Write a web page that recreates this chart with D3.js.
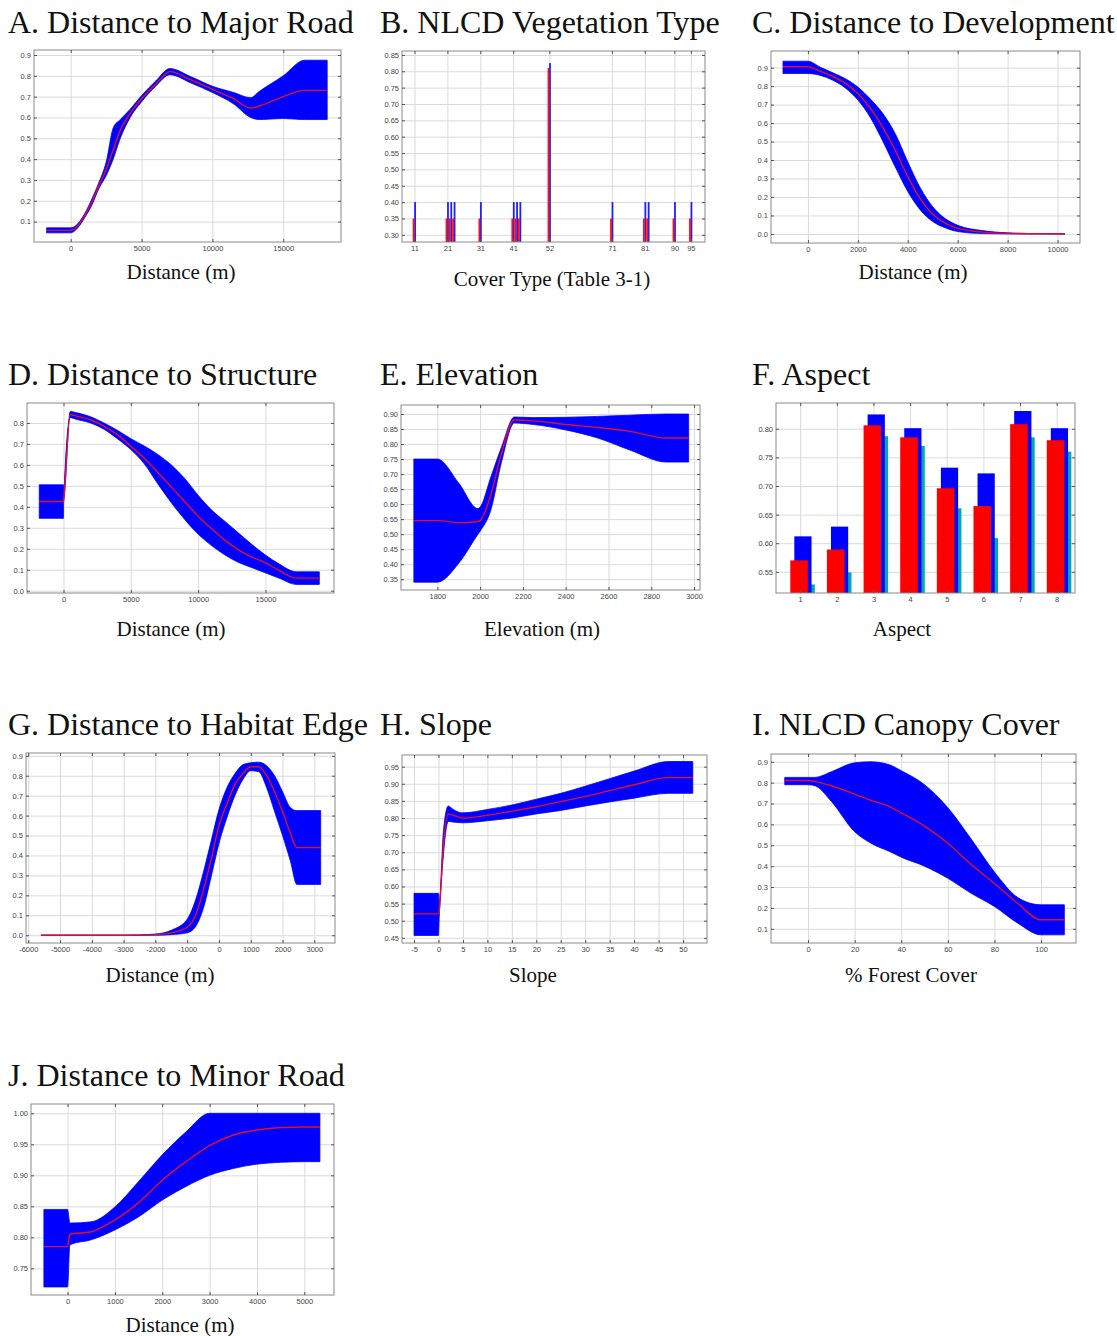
<!DOCTYPE html>
<html>
<head>
<meta charset="utf-8">
<script src="https://cdn.jsdelivr.net/npm/d3@7"></script>
<style>
body { margin: 0; background: #fff; }
.tick text { font-family: "Liberation Sans", Arial, sans-serif; font-size: 7.5px; fill: #444; }
.ttl { font-family: "Liberation Serif", "Times New Roman", serif; font-size: 32px; fill: #111; }
.xlab { font-family: "Liberation Serif", "Times New Roman", serif; font-size: 21px; fill: #111; }
</style>
</head>
<body>
<svg width="1117" height="1336"></svg>
<script>
// A. distance to major road
var roadX    = [-1700, 0, 500, 1000, 1500, 2000, 2500, 3000, 3500, 4200, 5000, 6000, 7000, 8500, 10000, 11500, 12700, 13300, 15000, 16500, 18100];
var roadMean = [0.058, 0.058, 0.08, 0.13, 0.195, 0.275, 0.35, 0.445, 0.54, 0.62, 0.69, 0.76, 0.82, 0.78, 0.735, 0.69, 0.645, 0.655, 0.70, 0.73, 0.73];
var roadHi   = [0.07, 0.07, 0.09, 0.14, 0.21, 0.29, 0.385, 0.55, 0.59, 0.64, 0.705, 0.775, 0.835, 0.795, 0.75, 0.72, 0.695, 0.725, 0.80, 0.875, 0.875];
var roadLo   = [0.046, 0.046, 0.07, 0.12, 0.18, 0.26, 0.32, 0.40, 0.50, 0.60, 0.675, 0.75, 0.805, 0.765, 0.72, 0.665, 0.60, 0.59, 0.595, 0.59, 0.59];

// B. NLCD vegetation type
var coverCodes = [11, 21, 22, 23, 31, 41, 42, 43, 52, 71, 81, 82, 90, 95];
var coverRed   = [0.35, 0.35, 0.35, 0.35, 0.35, 0.35, 0.35, 0.35, 0.81, 0.35, 0.35, 0.35, 0.35, 0.35];
var coverBlue  = [0.40, 0.40, 0.40, 0.40, 0.40, 0.40, 0.40, 0.40, 0.825, 0.40, 0.40, 0.40, 0.40, 0.40];
var coverTicks = [11, 21, 31, 41, 52, 71, 81, 90, 95];

// C. distance to development
var devX    = [-1000, 0, 500, 1000, 1500, 2000, 2500, 3000, 3500, 4000, 4500, 5000, 5500, 6000, 7000, 8000, 9000, 10300];
var devMean = [0.905, 0.905, 0.88, 0.852, 0.815, 0.76, 0.68, 0.577, 0.452, 0.31, 0.19, 0.107, 0.058, 0.03, 0.01, 0.003, 0.001, 0.0];
var devHi   = [0.935, 0.935, 0.902, 0.872, 0.84, 0.795, 0.73, 0.652, 0.542, 0.39, 0.25, 0.147, 0.083, 0.047, 0.018, 0.006, 0.002, 0.001];
var devLo   = [0.868, 0.868, 0.858, 0.832, 0.79, 0.725, 0.63, 0.502, 0.362, 0.23, 0.13, 0.067, 0.033, 0.013, 0.002, 0.0, 0.0, 0.0];

// D. distance to structure
var strX    = [-1800, 0, 10, 500, 1000, 2000, 3000, 4000, 5000, 6000, 7000, 8000, 9000, 10000, 11000, 12000, 13000, 14000, 15000, 16000, 17300, 19000];
var strMean = [0.425, 0.425, 0.43, 0.84, 0.832, 0.815, 0.785, 0.744, 0.689, 0.632, 0.565, 0.495, 0.425, 0.355, 0.295, 0.24, 0.195, 0.16, 0.133, 0.097, 0.06, 0.06];
var strHi   = [0.505, 0.505, 0.44, 0.855, 0.848, 0.83, 0.80, 0.765, 0.725, 0.69, 0.65, 0.60, 0.535, 0.455, 0.385, 0.33, 0.275, 0.22, 0.17, 0.128, 0.09, 0.09];
var strLo   = [0.345, 0.345, 0.42, 0.825, 0.816, 0.80, 0.77, 0.725, 0.673, 0.605, 0.51, 0.42, 0.34, 0.27, 0.215, 0.17, 0.135, 0.11, 0.085, 0.06, 0.03, 0.03];

// E. elevation
var elevX    = [1690, 1800, 1900, 1990, 2000, 2050, 2100, 2160, 2250, 2400, 2550, 2700, 2870, 2975];
var elevMean = [0.545, 0.545, 0.538, 0.542, 0.545, 0.63, 0.77, 0.88, 0.877, 0.865, 0.855, 0.842, 0.82, 0.82];
var elevHi   = [0.75, 0.75, 0.67, 0.585, 0.59, 0.69, 0.79, 0.89, 0.888, 0.889, 0.892, 0.896, 0.90, 0.90];
var elevLo   = [0.34, 0.34, 0.403, 0.50, 0.51, 0.58, 0.74, 0.87, 0.865, 0.847, 0.82, 0.78, 0.74, 0.74];

// F. aspect
var aspectCats = [1, 2, 3, 4, 5, 6, 7, 8];
var aspectRed  = [0.570, 0.589, 0.806, 0.785, 0.696, 0.665, 0.808, 0.780];
var aspectBlue = [0.612, 0.629, 0.825, 0.801, 0.732, 0.722, 0.831, 0.801];
var aspectCyan = [0.528, 0.549, 0.787, 0.770, 0.661, 0.609, 0.785, 0.760];

// G. distance to habitat edge
var edgeX    = [-5600, -3000, -2000, -1500, -1000, -750, -500, -250, 0, 250, 500, 750, 1000, 1250, 1500, 1750, 2000, 2250, 2450, 3200];
var edgeMean = [0, 0, 0.003, 0.012, 0.04, 0.095, 0.22, 0.377, 0.55, 0.66, 0.755, 0.81, 0.845, 0.845, 0.80, 0.72, 0.62, 0.51, 0.44, 0.44];
var edgeHi   = [0, 0, 0.006, 0.025, 0.08, 0.17, 0.31, 0.47, 0.63, 0.74, 0.81, 0.855, 0.865, 0.868, 0.85, 0.80, 0.72, 0.64, 0.625, 0.625];
var edgeLo   = [0, 0, 0, 0.003, 0.012, 0.04, 0.13, 0.29, 0.46, 0.59, 0.70, 0.78, 0.825, 0.82, 0.74, 0.62, 0.50, 0.37, 0.255, 0.255];

// H. slope
var slopeX    = [-5, 0, 0.15, 1, 2, 3, 5, 10, 15, 20, 25, 30, 35, 40, 47, 52];
var slopeMean = [0.52, 0.52, 0.53, 0.72, 0.812, 0.808, 0.80, 0.808, 0.82, 0.833, 0.848, 0.863, 0.88, 0.897, 0.918, 0.918];
var slopeHi   = [0.58, 0.58, 0.55, 0.76, 0.835, 0.825, 0.815, 0.825, 0.838, 0.855, 0.872, 0.893, 0.915, 0.937, 0.965, 0.965];
var slopeLo   = [0.457, 0.457, 0.51, 0.69, 0.79, 0.788, 0.786, 0.792, 0.80, 0.812, 0.822, 0.835, 0.847, 0.858, 0.872, 0.872];

// I. NLCD canopy cover
var canX    = [-10, 0, 3, 10, 20, 27, 35, 40, 50, 60, 70, 80, 90, 100, 110];
var canMean = [0.81, 0.81, 0.805, 0.785, 0.745, 0.715, 0.685, 0.655, 0.592, 0.51, 0.408, 0.317, 0.222, 0.143, 0.143];
var canHi   = [0.825, 0.825, 0.825, 0.852, 0.895, 0.90, 0.885, 0.857, 0.79, 0.68, 0.53, 0.372, 0.25, 0.215, 0.215];
var canLo   = [0.79, 0.79, 0.785, 0.71, 0.565, 0.51, 0.47, 0.443, 0.40, 0.342, 0.27, 0.207, 0.127, 0.071, 0.071];

// J. distance to minor road
var minX    = [-500, 0, 50, 500, 1000, 1500, 2000, 2500, 3000, 3500, 4000, 4500, 5000, 5330];
var minMean = [0.785, 0.785, 0.805, 0.809, 0.828, 0.856, 0.892, 0.922, 0.948, 0.965, 0.973, 0.977, 0.978, 0.978];
var minHi   = [0.845, 0.845, 0.823, 0.825, 0.849, 0.89, 0.933, 0.97, 1.0, 1.0, 1.0, 1.0, 1.0, 1.0];
var minLo   = [0.72, 0.72, 0.788, 0.796, 0.812, 0.833, 0.86, 0.882, 0.90, 0.911, 0.918, 0.921, 0.922, 0.922];

// tick values
var ticksRoadX = [0, 5000, 10000, 15000];
var ticksDevX = [0, 2000, 4000, 6000, 8000, 10000];
var ticksElevX = [1800, 2000, 2200, 2400, 2600, 2800, 3000];
var ticksEdgeX = [-6000, -5000, -4000, -3000, -2000, -1000, 0, 1000, 2000, 3000];
var ticksSlopeX = [-5, 0, 5, 10, 15, 20, 25, 30, 35, 40, 45, 50];
var ticksCanX = [0, 20, 40, 60, 80, 100];
var ticksMinX = [0, 1000, 2000, 3000, 4000, 5000];
var ticksTenths = [0, 0.1, 0.2, 0.3, 0.4, 0.5, 0.6, 0.7, 0.8, 0.9];
var ticksCoverY = [0.30, 0.35, 0.40, 0.45, 0.50, 0.55, 0.60, 0.65, 0.70, 0.75, 0.80, 0.85];
var ticksElevY = [0.35, 0.40, 0.45, 0.50, 0.55, 0.60, 0.65, 0.70, 0.75, 0.80, 0.85, 0.90];
var ticksAspectY = [0.55, 0.60, 0.65, 0.70, 0.75, 0.80];
var ticksSlopeY = [0.45, 0.50, 0.55, 0.60, 0.65, 0.70, 0.75, 0.80, 0.85, 0.90, 0.95];
var ticksMinY = [0.75, 0.80, 0.85, 0.90, 0.95, 1.00];

var svg = d3.select("svg");
var f1 = function(d) { return d.toFixed(1); },
    f2 = function(d) { return d.toFixed(2); },
    fd = function(d) { return String(d); };

function frame(p) {
    var b = p.box;
    var x = d3.scaleLinear().domain(p.xd).range([b[0], b[1]]);
    var y = d3.scaleLinear().domain(p.yd).range([b[3], b[2]]);
    var g = svg.append("g");
    var xt = p.xt.filter(function(d) { return d >= p.xd[0] && d <= p.xd[1]; });
    var yt = p.yt.filter(function(d) { return d >= p.yd[0] && d <= p.yd[1]; });

    // grid
    g.append("g").attr("transform", "translate(0," + b[3] + ")")
        .call(d3.axisBottom(x).tickValues(xt).tickSize(-(b[3] - b[2])).tickFormat(""))
        .call(function(a) { a.select(".domain").remove(); a.selectAll("line").attr("stroke", "#dadada"); });
    g.append("g").attr("transform", "translate(" + b[0] + ",0)")
        .call(d3.axisLeft(y).tickValues(yt).tickSize(-(b[1] - b[0])).tickFormat(""))
        .call(function(a) { a.select(".domain").remove(); a.selectAll("line").attr("stroke", "#dadada"); });

    p.x = x; p.y = y; p.g = g; p.xtv = xt; p.ytv = yt;
    return p;
}

function axes(p) {
    var b = p.box, g = p.g;
    g.append("rect").attr("x", b[0]).attr("y", b[2]).attr("width", b[1] - b[0]).attr("height", b[3] - b[2])
        .attr("fill", "none").attr("stroke", "#8a8a8a");
    g.append("g").attr("transform", "translate(0," + b[3] + ")")
        .call(d3.axisBottom(p.x).tickValues(p.xtv).tickSize(-3).tickPadding(4).tickFormat(p.xf))
        .call(function(a) { a.select(".domain").remove(); a.selectAll("line").attr("stroke", "#555"); });
    g.append("g").attr("transform", "translate(0," + b[2] + ")")
        .call(d3.axisTop(p.x).tickValues(p.xtv).tickSize(-3).tickFormat(""))
        .call(function(a) { a.select(".domain").remove(); a.selectAll("line").attr("stroke", "#555"); });
    g.append("g").attr("transform", "translate(" + b[0] + ",0)")
        .call(d3.axisLeft(p.y).tickValues(p.ytv).tickSize(-3).tickPadding(3).tickFormat(p.yf))
        .call(function(a) { a.select(".domain").remove(); a.selectAll("line").attr("stroke", "#555"); });
    g.append("g").attr("transform", "translate(" + b[1] + ",0)")
        .call(d3.axisRight(p.y).tickValues(p.ytv).tickSize(-3).tickFormat(""))
        .call(function(a) { a.select(".domain").remove(); a.selectAll("line").attr("stroke", "#555"); });

    svg.append("text").attr("class", "ttl").attr("x", p.tx).attr("y", p.ty).text(p.title);
    svg.append("text").attr("class", "xlab").attr("x", p.lx).attr("y", p.ly)
        .attr("text-anchor", "middle").text(p.xlabel);
}

function bandPanel(p, xs, mean, hi, lo) {
    frame(p);
    var idx = d3.range(xs.length);
    var area = d3.area().curve(d3.curveMonotoneX)
        .x(function(i) { return p.x(xs[i]); })
        .y0(function(i) { return p.y(lo[i]); })
        .y1(function(i) { return p.y(hi[i]); });
    var line = d3.line().curve(d3.curveMonotoneX)
        .x(function(i) { return p.x(xs[i]); })
        .y(function(i) { return p.y(mean[i]); });
    p.g.append("path").attr("d", area(idx)).attr("fill", "#0000ff").attr("stroke", "#0000ff").attr("stroke-width", 0.8);
    p.g.append("path").attr("d", line(idx)).attr("fill", "none").attr("stroke", "#e0102a").attr("stroke-width", 1.4);
    axes(p);
}

function barPanel(p, cats, sets) {
    frame(p);
    sets.forEach(function(s) {
        p.g.selectAll(null).data(cats).enter().append("rect")
            .attr("x", function(c) { return p.x(c + s.off[0]); })
            .attr("width", function(c) { return p.x(c + s.off[1]) - p.x(c + s.off[0]); })
            .attr("y", function(c, i) { return p.y(s.vals[i]); })
            .attr("height", function(c, i) { return p.y(p.yd[0]) - p.y(s.vals[i]); })
            .attr("fill", s.color);
    });
    axes(p);
}

bandPanel({ title: "A. Distance to Major Road", tx: 8, ty: 33, xlabel: "Distance (m)", lx: 181, ly: 279,
    box: [34, 341, 50, 242], xd: [-2590, 19075], yd: [0.002, 0.924],
    xt: ticksRoadX, yt: ticksTenths, xf: fd, yf: f1 }, roadX, roadMean, roadHi, roadLo);

barPanel({ title: "B. NLCD Vegetation Type", tx: 380, ty: 33, xlabel: "Cover Type (Table 3-1)", lx: 552, ly: 286,
    box: [402, 705, 51, 242], xd: [7.2, 99.3], yd: [0.278, 0.862],
    xt: coverTicks, yt: ticksCoverY, xf: fd, yf: f2 }, coverCodes,
    [{ vals: coverBlue, color: "#2020ff", off: [-0.1, 0.45] },
     { vals: coverRed, color: "#ff1010", off: [-0.55, 0.0] }]);

bandPanel({ title: "C. Distance to Development", tx: 752, ty: 33, xlabel: "Distance (m)", lx: 913, ly: 279,
    box: [771, 1080, 51, 243], xd: [-1480, 10900], yd: [-0.049, 0.99],
    xt: ticksDevX, yt: ticksTenths, xf: fd, yf: f1 }, devX, devMean, devHi, devLo);

bandPanel({ title: "D. Distance to Structure", tx: 8, ty: 385, xlabel: "Distance (m)", lx: 171, ly: 636,
    box: [27, 334, 403, 593], xd: [-2710, 20090], yd: [-0.011, 0.895],
    xt: ticksRoadX, yt: ticksTenths, xf: fd, yf: f1 }, strX, strMean, strHi, strLo);

bandPanel({ title: "E. Elevation", tx: 380, ty: 385, xlabel: "Elevation (m)", lx: 542, ly: 636,
    box: [401, 700, 405, 590], xd: [1630, 3028], yd: [0.314, 0.93],
    xt: ticksElevX, yt: ticksElevY, xf: fd, yf: f2 }, elevX, elevMean, elevHi, elevLo);

barPanel({ title: "F. Aspect", tx: 752, ty: 385, xlabel: "Aspect", lx: 902, ly: 636,
    box: [776, 1075, 403, 593], xd: [0.34, 8.5], yd: [0.513, 0.845],
    xt: aspectCats, yt: ticksAspectY, xf: fd, yf: f2 }, aspectCats,
    [{ vals: aspectCyan, color: "#00a8b0", off: [-0.05, 0.40] },
     { vals: aspectBlue, color: "#0000ff", off: [-0.16, 0.31] },
     { vals: aspectRed, color: "#ff0000", off: [-0.27, 0.21] }]);

bandPanel({ title: "G. Distance to Habitat Edge", tx: 8, ty: 735, xlabel: "Distance (m)", lx: 160, ly: 982,
    box: [26, 335, 753, 943], xd: [-6070, 3650], yd: [-0.039, 0.914],
    xt: ticksEdgeX, yt: ticksTenths, xf: fd, yf: f1 }, edgeX, edgeMean, edgeHi, edgeLo);

bandPanel({ title: "H. Slope", tx: 380, ty: 735, xlabel: "Slope", lx: 533, ly: 982,
    box: [402, 707, 755, 943], xd: [-7.46, 54.9], yd: [0.435, 0.984],
    xt: ticksSlopeX, yt: ticksSlopeY, xf: fd, yf: f2 }, slopeX, slopeMean, slopeHi, slopeLo);

bandPanel({ title: "I. NLCD Canopy Cover", tx: 752, ty: 735, xlabel: "% Forest Cover", lx: 911, ly: 982,
    box: [771, 1076, 754, 943], xd: [-15.9, 115], yd: [0.032, 0.937],
    xt: ticksCanX, yt: ticksTenths, xf: fd, yf: f1 }, canX, canMean, canHi, canLo);

bandPanel({ title: "J. Distance to Minor Road", tx: 8, ty: 1086, xlabel: "Distance (m)", lx: 180, ly: 1332,
    box: [31, 334, 1104, 1295], xd: [-772, 5627], yd: [0.707, 1.015],
    xt: ticksMinX, yt: ticksMinY, xf: fd, yf: f2 }, minX, minMean, minHi, minLo);
</script>
</body>
</html>
